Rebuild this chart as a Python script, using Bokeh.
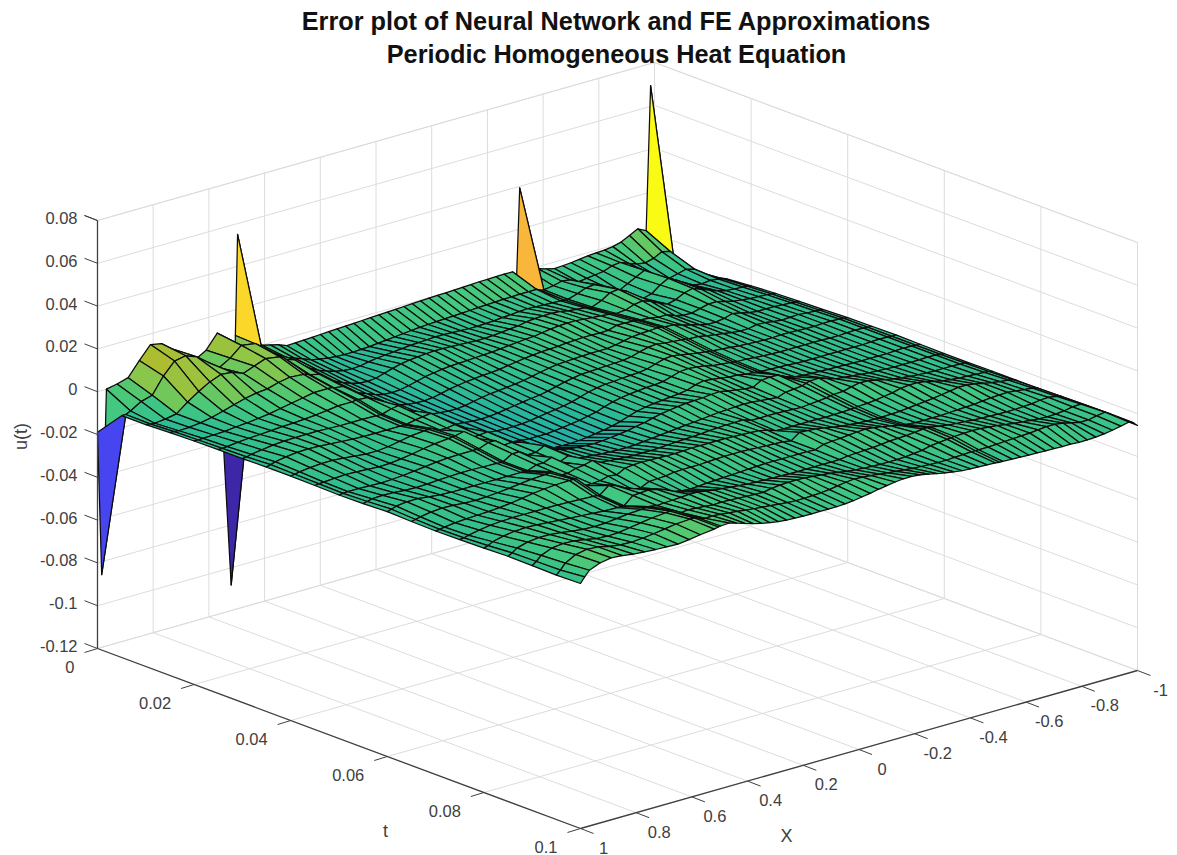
import numpy as np
from bokeh.plotting import figure
from bokeh.models import Range1d, ColumnDataSource
from bokeh.core.properties import value
from bokeh.embed import file_html
from bokeh.resources import INLINE

TITLE = ["Error plot of Neural Network and FE Approximations", "Periodic Homogeneous Heat Equation"]
X_TICKS = [1, 0.8, 0.6, 0.4, 0.2, 0, -0.2, -0.4, -0.6, -0.8, -1]
T_TICKS = [0, 0.02, 0.04, 0.06, 0.08, 0.1]
Z_TICKS = [-0.12, -0.1, -0.08, -0.06, -0.04, -0.02, 0, 0.02, 0.04, 0.06, 0.08]
X_LAB = ["1", "0.8", "0.6", "0.4", "0.2", "0", "-0.2", "-0.4", "-0.6", "-0.8", "-1"]
T_LAB = ["0", "0.02", "0.04", "0.06", "0.08", "0.1"]
Z_LAB = ["-0.12", "-0.1", "-0.08", "-0.06", "-0.04", "-0.02", "0", "0.02", "0.04", "0.06", "0.08"]

T_NODES = [0, .005, .01, .015, .02, .025, .03, .035, .04, .045, .05, .055, .06, .065, .07, .075, .08, .085, .09, .095, .1]
X_LEFT = [1, .985, .968, .93, .89, .85, .81, .77, .73, .69, .65, .61, .57, .52, .505, .497]

# values, in units of 0.0001
# left part of the surface: one list per t node, over X_LEFT
LEFT_T = [
 [-190,-860,0,10,25,90,150,140,100,50,20,50,115,-1080,80,550],
 [-70,-70,-60,-30,-15,60,115,125,105,65,25,55,100,90,75,60],
 [-70,-72,-75,-70,-60,-20,15,45,65,60,40,60,80,70,60,50],
 [-65,-66,-68,-66,-60,-50,-35,-20,-5,5,10,25,35,30,25,20],
 [-62,-63,-62,-60,-58,-52,-48,-42,-35,-25,-15,-5,5,5,5,0],
 [-60,-60,-58,-52,-48,-45,-42,-38,-36,-32,-28,-22,-15,-15,-12,-12],
 [-60,-58,-52,-45,-38,-34,-32,-32,-32,-34,-36,-36,-36,-38,-38,-38],
 [-58,-52,-45,-36,-30,-28,-30,-34,-38,-42,-44,-44,-44,-44,-44,-44],
 [-58,-55,-50,-44,-40,-40,-44,-50,-55,-55,-50,-40,-30,-24,-22,-20],
 [-60,-58,-56,-52,-50,-52,-55,-58,-56,-50,-42,-32,-24,-18,-16,-14],
 [-62,-60,-58,-58,-60,-62,-60,-56,-50,-44,-38,-34,-32,-32,-32,-32],
 [-60,-56,-50,-48,-50,-54,-56,-54,-50,-48,-46,-46,-48,-50,-50,-50],
 [-56,-50,-42,-36,-36,-42,-48,-50,-50,-50,-50,-50,-50,-50,-50,-50],
 [-60,-56,-50,-42,-38,-40,-44,-46,-44,-40,-34,-28,-22,-18,-16,-14],
 [-62,-60,-56,-50,-46,-44,-42,-38,-32,-24,-16,-10,-6,-4,-4,-4],
 [-60,-58,-52,-42,-34,-30,-28,-28,-28,-28,-28,-30,-32,-36,-38,-38],
 [-58,-52,-40,-28,-20,-18,-20,-24,-28,-32,-36,-40,-44,-46,-46,-46],
 [-54,-44,-28,-14,-8,-8,-14,-22,-28,-30,-28,-22,-16,-12,-10,-8],
 [-56,-42,-20,0,6,4,-4,-14,-18,-16,-8,0,8,14,16,18],
 [-58,-40,-14,12,22,18,6,-2,-4,0,6,14,22,26,26,26],
 [-55,-30,-5,15,24,20,12,8,4,2,0,6,14,22,26,28],
]

# the rest of the surface: x node -> values over T_NODES
COLUMNS = {
 .465: [40,30,35,10,-5,-15,-25,-35,-40,-5,-15,-25,-35,-42,-48,-5,-10,-15,-5,10,30],
 .44: [10,5,-5,-25,-45,-30,-20,-30,-40,-45,-15,-25,-35,-42,-48,-15,-8,-12,-2,12,20],
 .41: [0,-15,-25,-42,-55,-62,-50,-25,-35,-42,-48,-50,-20,-30,-45,-35,-5,-10,-5,8,8],
 .38: [-10,-30,-45,-60,-70,-78,-82,-85,-60,-38,-45,-50,-52,-25,-35,-55,-12,-8,-8,4,-4],
 .35: [-20,-45,-60,-75,-85,-90,-94,-98,-100,-95,-55,-30,-35,-15,-40,-58,-25,-5,-12,0,-14],
 .32: [-36,-60,-72,-85,-95,-100,-104,-108,-110,-112,-90,-55,-58,-35,-20,-40,-45,-5,-10,-5,-22],
 .29: [-34,-68,-80,-88,-98,-104,-108,-112,-116,-118,-116,-70,-62,-38,-15,-38,-52,-12,-12,-10,-28],
 .26: [-32,-74,-82,-84,-96,-106,-112,-116,-120,-122,-122,-78,-66,-42,-14,-36,-55,-18,-14,-14,-32],
 .23: [-30,-78,-80,-72,-88,-102,-112,-118,-122,-126,-126,-82,-70,-44,-15,-30,-54,-22,-16,-18,-34],
 .20: [-28,-80,-72,-60,-78,-94,-108,-116,-122,-126,-128,-85,-72,-46,-16,-28,-50,-26,-18,-22,-36],
 .17: [-26,-80,-66,-50,-68,-84,-100,-112,-120,-126,-128,-86,-74,-46,-18,-28,-48,-30,-20,-26,-36],
 .14: [-24,-78,-62,-44,-62,-78,-92,-106,-116,-122,-126,-84,-74,-46,-18,-28,-46,-34,-12,-28,-36],
 .11: [-22,-76,-58,-40,-56,-72,-86,-100,-110,-118,-122,-80,-72,-44,-16,-26,-44,-36,-8,-28,-36],
 .08: [-20,-72,-54,-36,-52,-68,-82,-94,-104,-112,-116,-75,-68,-42,-14,-24,-42,-38,-6,-26,-36],
 .05: [-18,-68,-50,-34,-50,-64,-78,-88,-98,-106,-110,-70,-64,-40,-14,-22,-40,-40,-6,-24,-34],
 .02: [-16,-64,-48,-34,-48,-62,-74,-84,-92,-98,-102,-62,-60,-38,-14,-22,-38,-40,-8,-20,-30],
 -.01: [-14,-60,-46,-36,-46,-58,-68,-76,-84,-90,-92,-55,-56,-36,-14,-22,-36,-42,-12,-14,-24],
 -.04: [-12,-56,-44,-38,-44,-52,-60,-66,-72,-76,-78,-45,-52,-34,-14,-24,-36,-42,-16,-8,-18],
 -.07: [-10,-52,-44,-40,-42,-46,-52,-56,-60,-64,-66,-36,-48,-30,-16,-26,-36,-42,-20,-4,-10],
 -.10: [-8,-50,-46,-42,-38,-40,-44,-48,-52,-56,-58,-30,-44,-28,-18,-28,-36,-42,-26,-6,-4],
 -.13: [-6,-48,-48,-42,-34,-36,-38,-42,-46,-50,-52,-24,-40,-26,-20,-30,-36,-42,-32,-10,2],
 -.16: [-4,-46,-50,-40,-30,-32,-36,-40,-44,-46,-48,-20,-36,-26,-22,-32,-36,-42,-36,-14,6],
 -.19: [-2,-44,-50,-36,-26,-30,-34,-38,-40,-42,-44,-18,-32,-24,-30,-38,-38,-42,-40,-20,6],
 -.22: [0,-42,-48,-32,-24,-28,-32,-36,-38,-40,-40,-16,-30,-38,-44,-10,-24,-36,-42,-24,2],
 -.25: [0,-40,-46,-28,-18,-24,-30,-34,-36,-36,-34,-12,-28,-38,-46,-12,-20,-34,-44,-28,-6],
 -.28: [2,-38,-42,-20,-12,-22,-30,-32,-30,-24,-20,-10,-26,-38,-46,-16,-18,-32,-44,-32,-14],
 -.31: [4,-36,-40,-16,-8,-20,-30,-26,-18,-12,-12,-18,-28,-38,-46,-22,-14,-30,-44,-34,-22],
 -.34: [6,-34,-36,-14,-6,-20,-24,-14,-6,-8,-16,-24,-32,-40,-46,-30,-10,-26,-42,-36,-28],
 -.37: [8,-32,-34,-14,-6,-22,-16,-4,-2,-12,-22,-30,-36,-42,-46,-36,-8,-22,-38,-38,-34],
 -.40: [8,-32,-36,-16,-10,-20,-8,0,-8,-18,-28,-34,-40,-44,-48,-40,-12,-20,-34,-38,-36],
 -.43: [10,-30,-38,-24,-14,-8,-4,-6,-16,-28,-30,-12,-26,-40,-46,-44,-18,-18,-24,-36,-38],
 -.46: [10,-30,-40,-28,-16,-8,-2,-10,-22,-32,-36,-8,-22,-36,-46,-46,-26,-14,-20,-34,-40],
 -.49: [10,-30,-42,-32,-20,-10,0,-14,-28,-36,-40,-10,-18,-32,-44,-48,-34,-10,-16,-32,-42],
 -.504: [-50,-40,-44,-36,-24,-12,-2,-16,-30,-38,-42,-20,-12,-28,-42,-48,-38,-8,-14,-32,-44],
 -.516: [393,-42,-44,-38,-26,-14,-4,-18,-32,-40,-44,-26,-6,-26,-40,-48,-40,-10,-12,-32,-44],
 -.55: [-8,-35,-30,-20,-22,-18,-8,-20,-36,-42,-46,-40,-4,-24,-38,-46,-44,-18,-10,-32,-46],
 -.58: [-8,-25,-15,5,-8,-25,-20,-28,-40,-46,-48,-44,-18,-14,-34,-44,-44,-24,-8,-30,-48],
 -.61: [-20,-30,-10,10,-2,-25,-30,-34,-44,-48,-50,-46,-30,-6,-28,-40,-44,-28,-10,-28,-50],
 -.64: [-30,-50,-25,-10,-15,-40,-40,-40,-46,-50,-52,-48,-34,-8,-22,-36,-44,-30,-14,-26,-50],
 -.67: [-28,-45,-55,-40,-35,-50,-50,-46,-48,-52,-54,-50,-38,-16,-12,-32,-42,-34,-18,-24,-52],
 -.70: [-25,-40,-70,-65,-50,-50,-50,-50,-50,-52,-54,-50,-42,-24,-8,-28,-40,-36,-24,-22,-52],
 -.73: [-20,-35,-50,-55,-40,-40,-44,-50,-50,-52,-54,-52,-46,-32,-8,-22,-38,-38,-30,-18,-54],
 -.76: [-15,-20,-30,-25,-20,-30,-32,-42,-48,-52,-54,-52,-48,-38,-14,-16,-36,-40,-34,-14,-54],
 -.79: [-12,-15,-10,-5,-10,-30,-40,-44,-48,-52,-54,-54,-50,-42,-24,-10,-32,-40,-38,-14,-56],
 -.82: [-10,-30,-40,-25,-25,-40,-50,-50,-50,-52,-54,-54,-52,-46,-32,-10,-28,-40,-42,-20,-56],
 -.85: [-5,-45,-70,-55,-40,-50,-55,-54,-52,-54,-54,-54,-52,-48,-38,-16,-26,-38,-44,-30,-54],
 -.88: [5,-50,-80,-70,-55,-55,-55,-52,-52,-54,-54,-54,-52,-50,-42,-24,-24,-36,-42,-38,-50],
 -.91: [25,-40,-70,-75,-65,-60,-55,-50,-50,-52,-52,-52,-52,-50,-44,-32,-28,-30,-38,-38,-44],
 -.94: [45,-20,-60,-70,-68,-62,-58,-54,-50,-50,-50,-50,-50,-50,-46,-38,-34,-28,-30,-30,-36],
 -.97: [25,-30,-70,-75,-70,-64,-60,-56,-52,-52,-52,-52,-52,-52,-48,-42,-38,-34,-28,-24,-28],
 -.986: [697,-100,-90,-80,-72,-66,-62,-58,-54,-54,-54,-54,-54,-52,-50,-46,-42,-40,-38,-36,-38],
 -1: [-60,-125,-110,-85,-75,-68,-64,-60,-56,-54,-52,-54,-56,-56,-54,-54,-54,-54,-54,-52,-55],
}
bad = [k for k, v in COLUMNS.items() if len(v) != len(T_NODES)]
assert not bad, bad
X_NODES = X_LEFT + list(COLUMNS)
Z = np.hstack([np.array(LEFT_T, float), np.array(list(COLUMNS.values()), float).T]) * 1e-4

# view: orthographic projection of the axes box on the page
ORIGIN = np.array([97.0, 648.0])
X_VEC = np.array([557.0, -158.0])   # x from 1 to -1
T_VEC = np.array([483.0, 180.0])    # t from 0 to 0.1
Z_VEC = np.array([0.0, -428.0])     # z from -0.12 to 0.08


def proj(x, t, z):
    return ORIGIN + (1 - x) / 2 * X_VEC + t / 0.1 * T_VEC + (z + 0.12) / 0.2 * Z_VEC


# colour scale
STOPS_Z = [-.108, -.086, -.05, -.02, -.012, -.006, 0, .005, .010, .015, .03, .04, .055, .069]
STOPS_R = [62, 70, 20, 30, 35, 48, 66, 105, 145, 172, 225, 250, 250, 249]
STOPS_G = [38, 70, 130, 165, 178, 190, 200, 200, 198, 190, 185, 182, 215, 251]
STOPS_B = [168, 240, 210, 175, 165, 145, 128, 95, 70, 48, 50, 60, 40, 20]


def colour(v):
    return "#%02x%02x%02x" % (int(np.interp(v, STOPS_Z, STOPS_R)), int(np.interp(v, STOPS_Z, STOPS_G)),
                              int(np.interp(v, STOPS_Z, STOPS_B)))


p = figure(width=1177, height=855, output_backend="svg", toolbar_location=None,
           x_range=Range1d(0, 1177), y_range=Range1d(855, 0),
           x_axis_type=None, y_axis_type=None, min_border=0, outline_line_color=None,
           background_fill_color="white", border_fill_color="white")

GRID = "#dcdcdc"
AXIS = "#404040"
TXT = "#404040"
FONT = value("Liberation Sans")


def line(a, b, col, w=1.0):
    p.line([a[0], b[0]], [a[1], b[1]], line_color=col, line_width=w)


ZB, ZT = -0.12, 0.08
for xv in X_TICKS:
    line(proj(xv, 0, ZB), proj(xv, 0.1, ZB), GRID)
    line(proj(xv, 0, ZB), proj(xv, 0, ZT), GRID)
for tv in T_TICKS:
    line(proj(1, tv, ZB), proj(-1, tv, ZB), GRID)
    line(proj(-1, tv, ZB), proj(-1, tv, ZT), GRID)
for zv in Z_TICKS + [ZT]:
    line(proj(1, 0, zv), proj(-1, 0, zv), GRID)
    line(proj(-1, 0, zv), proj(-1, 0.1, zv), GRID)

# surface: far cells first, so nearer cells hide them
xs, ys, cols = [], [], []
for i in range(len(T_NODES) - 1):
    for j in range(len(X_NODES) - 2, -1, -1):
        corners = [(X_NODES[j], T_NODES[i], Z[i, j]), (X_NODES[j + 1], T_NODES[i], Z[i, j + 1]),
                   (X_NODES[j + 1], T_NODES[i + 1], Z[i + 1, j + 1]), (X_NODES[j], T_NODES[i + 1], Z[i + 1, j])]
        pts = [proj(*c) for c in corners]
        xs.append([q[0] for q in pts])
        ys.append([q[1] for q in pts])
        cols.append(colour(Z[i, j + 1]))
p.patches("xs", "ys", source=ColumnDataSource(dict(xs=xs, ys=ys, c=cols)), fill_color="c",
          line_color="#0c0c0c", line_width=1.25, line_join="round")

# axes
line(proj(1, 0, ZB), proj(1, 0, ZT), AXIS, 1.3)
line(proj(1, 0, ZB), proj(1, 0.1, ZB), AXIS, 1.3)
line(proj(1, 0.1, ZB), proj(-1, 0.1, ZB), AXIS, 1.3)
for zv in Z_TICKS + [ZT]:
    a = proj(1, 0, zv)
    line(a, a + np.array([-13, -5]), AXIS)
for tv in T_TICKS:
    a = proj(1, tv, ZB)
    line(a, a + np.array([-13, 4]), AXIS)
for xv in X_TICKS:
    a = proj(xv, 0.1, ZB)
    line(a, a + np.array([13, 5]), AXIS)


def text(x, y, s, size, align="center", angle=0.0, style="normal", col=TXT):
    p.text([x], [y], text=[s], text_font=FONT, text_font_size=size, text_align=align, text_baseline="middle",
           angle=angle, text_font_style=style, text_color=col)


LS = "16.5px"
for zv, s in zip(Z_TICKS, Z_LAB):
    a = proj(1, 0, zv)
    text(a[0] - 20, a[1] - 2.5, s, LS, "right")
for tv, s in zip(T_TICKS, T_LAB):
    a = proj(1, tv, ZB)
    text(a[0] - 23, a[1] + 18, s, LS, "right")
for xv, s in zip(X_TICKS, X_LAB):
    a = proj(xv, 0.1, ZB)
    text(a[0] + 23, a[1] + 19, s, LS, "center")
text(20, 436, "u(t)", "18px", angle=np.pi / 2)
text(385, 830, "t", "18px")
text(786, 835, "X", "18px")
text(616, 20, TITLE[0], "25.3px", style="bold", col="#111111")
text(616, 53, TITLE[1], "25.3px", style="bold", col="#111111")

open("out.html", "w").write(file_html(p, INLINE))
